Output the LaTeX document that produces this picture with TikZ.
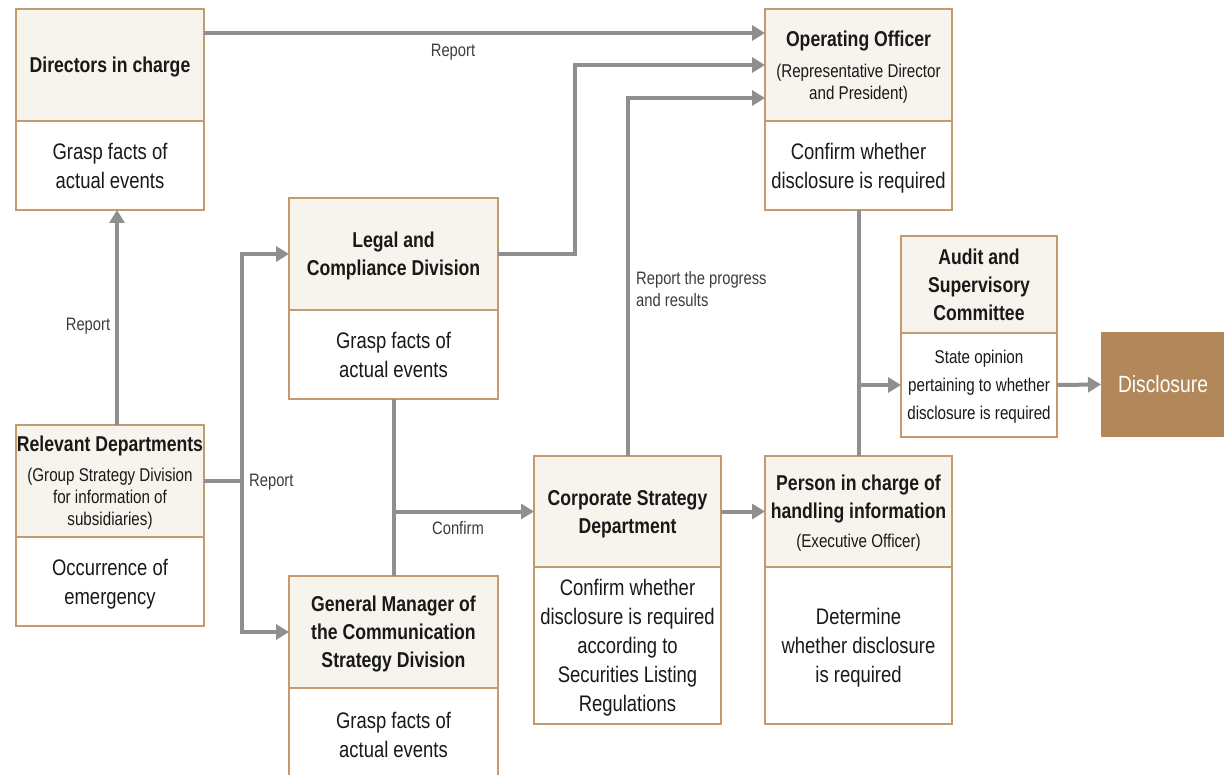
\documentclass[tikz,border=0pt]{standalone}
\usepackage{fontspec}
\setmainfont{Liberation Sans}[FakeStretch=0.82]
\usepackage{tikz}
\usetikzlibrary{positioning,arrows.meta,calc}
\definecolor{framecolor}{RGB}{196,155,110}
\definecolor{headcolor}{RGB}{247,244,237}
\definecolor{flowcolor}{RGB}{143,143,143}
\definecolor{disccolor}{RGB}{178,136,90}
\definecolor{textcolor}{RGB}{25,25,25}
\definecolor{notecolor}{RGB}{60,60,60}
\newcommand{\sub}[1]{{\fontsize{18.5}{22}\selectfont\mdseries #1}}

\begin{document}
\begin{tikzpicture}[
  x=1pt, y=-1pt,
  head/.style={draw=framecolor, fill=headcolor, line width=1.6pt, outer sep=0pt, inner sep=0pt, align=center, text depth=0pt, text=textcolor, font=\fontsize{21.5}{28}\selectfont\bfseries},
  body/.style={draw=framecolor, fill=white, line width=1.6pt, outer sep=0pt, inner sep=0pt, align=center, text depth=0pt, text=textcolor, font=\fontsize{22.5}{29}\selectfont},
  arr/.style={-{Triangle[length=13pt, width=15pt]}, draw=flowcolor, line width=4pt},
  link/.style={draw=flowcolor, line width=4pt},
  lbl/.style={text=notecolor, font=\fontsize{18}{22}\selectfont, align=left, inner sep=0pt},
]
\useasboundingbox (0,0) rectangle (1224,775);

% left column
\node[head, minimum width=188pt, minimum height=112pt] (dirH) at (110,65) {Directors in charge};
\node[body, minimum width=188pt, minimum height=89pt, below=0pt of dirH] (dirB) {Grasp facts of\\actual events};
\node[head, minimum width=188pt, minimum height=112pt] (relH) at (110,481) {Relevant Departments\\[2pt]\sub{(Group Strategy Division}\\[-6pt]\sub{for information of}\\[-6pt]\sub{subsidiaries)}};
\node[body, minimum width=188pt, minimum height=89pt, below=0pt of relH] (relB) {Occurrence of\\emergency};

% second column
\node[head, minimum width=209pt, minimum height=112pt] (legH) at (393.5,254) {Legal and\\Compliance Division};
\node[body, minimum width=209pt, minimum height=89pt, below=0pt of legH] (legB) {Grasp facts of\\actual events};
\node[head, minimum width=209pt, minimum height=112pt] (gmH) at (393.5,632) {General Manager of\\the Communication\\Strategy Division};
\node[body, minimum width=209pt, minimum height=94pt, below=0pt of gmH] (gmB) {Grasp facts of\\actual events};

% third and fourth column
\node[head, minimum width=187pt, minimum height=111pt] (corpH) at (627.5,511.5) {Corporate Strategy\\Department};
\node[body, minimum width=187pt, minimum height=157pt, below=0pt of corpH] (corpB) {Confirm whether\\disclosure is required\\according to\\Securities Listing\\Regulations};
\node[head, minimum width=187pt, minimum height=112pt] (ooH) at (858.5,65) {Operating Officer\\[3pt]\sub{(Representative Director}\\[-6pt]\sub{and President)}};
\node[body, minimum width=187pt, minimum height=89pt, below=0pt of ooH] (ooB) {Confirm whether\\disclosure is required};
\node[head, minimum width=187pt, minimum height=111pt] (perH) at (858.5,511.5) {Person in charge of\\handling information\\[1pt]\sub{(Executive Officer)}};
\node[body, minimum width=187pt, minimum height=157pt, below=0pt of perH] (perB) {Determine\\whether disclosure\\is required};

% right side
\node[head, minimum width=156pt, minimum height=97pt] (audH) at (979,284.5) {Audit and\\Supervisory\\Committee};
\node[body, minimum width=156pt, minimum height=104pt, below=0pt of audH, font=\fontsize{18.5}{28}\selectfont] (audB) {State opinion\\pertaining to whether\\disclosure is required};
\node[fill=disccolor, text=white, minimum width=124pt, minimum height=105pt, outer sep=0pt, font=\fontsize{23.5}{29}\selectfont] (disc) at (1163,384.5) {Disclosure};

% flows
\draw[arr] ([yshift=-24pt]dirH.north east) -- ([yshift=-24pt]ooH.north west);
\draw[arr] (legH.east) -- ++(77,0) |- ([yshift=-56pt]ooH.north west);
\draw[arr] (corpH.north) |- ([yshift=-89pt]ooH.north west);
\draw[arr] ([xshift=7pt]relH.north) -- ([xshift=7pt]dirB.south);
\draw[link] (relH.east) -- ++(38,0) coordinate (rj);
\draw[arr] (rj) |- (legH.west);
\draw[arr] (rj) |- (gmH.west);
\draw[link] (legB.south) -- (gmH.north);
\draw[arr] (legB.south |- corpH.west) -- (corpH.west);
\draw[arr] (corpH.east) -- (perH.west);
\draw[link] (ooB.south) -- (perH.north);
\draw[arr] (ooB.south |- audB.west) -- (audB.west);
\draw[arr] (audB.east) -- (disc.west);

% labels
\node[lbl] (repTop) at (453,52) {Report};
\node[lbl] (repLeft) at (88,326) {Report};
\node[lbl, anchor=west] (repMid) at (249,482) {Report};
\node[lbl] (confirm) at (458,528) {Confirm};
\node[lbl, anchor=west] (progress) at (636,289) {Report the progress\\and results};
\end{tikzpicture}
\end{document}
